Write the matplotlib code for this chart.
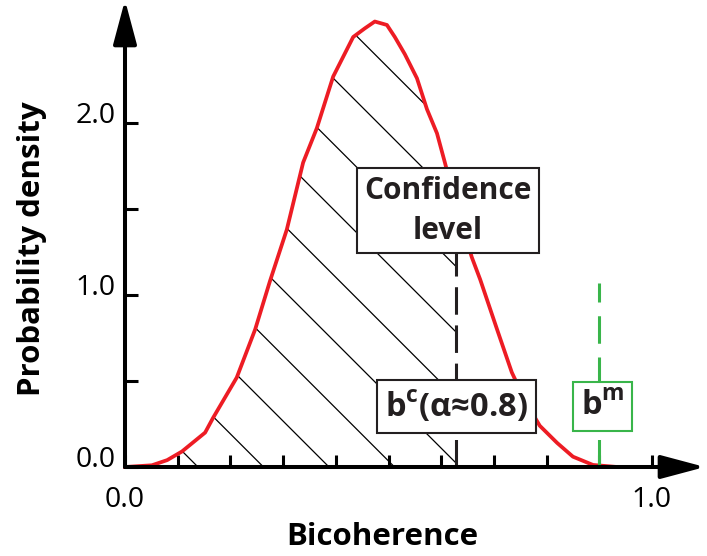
import numpy as np
import matplotlib.pyplot as plt
from matplotlib.patches import Polygon
from matplotlib.ticker import FixedLocator, NullFormatter

plt.rcParams['font.family'] = ['Open Sans', 'DejaVu Sans']
plt.rcParams['mathtext.fontset'] = 'custom'
plt.rcParams['mathtext.bf'] = 'Open Sans:bold'
plt.rcParams['mathtext.rm'] = 'Open Sans'

# distribution of the bicoherence
bicoherence = [0.0, 0.051, 0.08, 0.108, 0.152, 0.167, 0.212, 0.247, 0.275, 0.307,
               0.338, 0.364, 0.395, 0.433, 0.455, 0.474, 0.497, 0.512, 0.531, 0.554,
               0.573, 0.592, 0.607, 0.63, 0.658, 0.674, 0.706, 0.734, 0.76, 0.787,
               0.82, 0.85, 0.888, 0.934]
density = [0.0, 0.01, 0.04, 0.09, 0.2, 0.285, 0.52, 0.80, 1.08, 1.38,
           1.77, 1.97, 2.27, 2.50, 2.55, 2.59, 2.57, 2.50, 2.40, 2.26,
           2.08, 1.94, 1.77, 1.50, 1.22, 1.09, 0.80, 0.55, 0.38, 0.24,
           0.14, 0.06, 0.012, 0.0]

b_conf = 0.628      # confidence level b^c
b_meas = 0.9        # measured b^m
b_meas_top = 1.07
b_conf_top = 1.25

y_major = [0.0, 1.0, 2.0]
y_minor = [0.5, 1.5]
x_major = [0.0, 1.0]
x_minor = [0.1, 0.2, 0.3, 0.4, 0.5, 0.6, 0.7, 0.8, 0.9]

RED = '#ed1c24'
DARK = '#231f20'
GREEN = '#39b54a'

fig = plt.figure(figsize=(7.07, 5.56), dpi=100)
ax = fig.add_axes([125 / 707, 89 / 556, 580 / 707, 467 / 556])
ax.set_xlim(0, 580 / 527)
ax.set_ylim(0, 467 / 172)
for s in ax.spines.values():
    s.set_visible(False)

# axes with arrow heads
arrow = dict(arrowstyle='-|>,head_length=1.35,head_width=0.36', lw=2.9,
             color='black', shrinkA=0, shrinkB=0, mutation_scale=20)
ax.annotate('', xy=(1, 0), xytext=(0, 0), xycoords='axes fraction',
            arrowprops=arrow, annotation_clip=False, zorder=6)
ax.annotate('', xy=(0, 1), xytext=(0, 0), xycoords='axes fraction',
            arrowprops=arrow, annotation_clip=False, zorder=6)

# ticks
ax.xaxis.set_major_locator(FixedLocator(x_major))
ax.xaxis.set_minor_locator(FixedLocator(x_minor))
ax.set_xticklabels(['0.0', '1.0'])
ax.yaxis.set_major_locator(FixedLocator(y_major))
ax.yaxis.set_minor_locator(FixedLocator(y_minor))
ax.set_yticklabels(['0.0', '1.0', '2.0'])
ax.xaxis.set_minor_formatter(NullFormatter())
ax.tick_params(axis='both', which='both', direction='in', length=9, width=2.2,
               colors='black', labelsize=20.5)
ax.tick_params(axis='x', which='both', pad=14)
ax.tick_params(axis='y', which='both', pad=7)
for lbl in ax.get_yticklabels():
    lbl.set_va('baseline')

# hatched area under the curve up to the confidence level
xs = np.array(bicoherence)
ys = np.array(density)
keep = xs <= b_conf
poly_x = list(xs[keep]) + [b_conf, b_conf]
poly_y = list(ys[keep]) + [np.interp(b_conf, xs, ys), 0.0]
region = Polygon(np.column_stack([poly_x, poly_y]), closed=True,
                 facecolor='none', edgecolor='none')
ax.add_patch(region)

slope = 527 / 172          # 45 degrees on screen
first, step = 0.1385, 0.1243
for k in range(12):
    x0 = first + k * step
    hx = np.array([x0 - 3.0 / slope, x0])
    hy = (x0 - hx) * slope
    ln, = ax.plot(hx, hy, color='black', lw=0.9, zorder=2)
    ln.set_clip_path(region)

ax.plot(bicoherence, density, color=RED, lw=2.7, zorder=3, clip_on=False,
        solid_joinstyle='round')

ax.plot([b_conf, b_conf], [0, b_conf_top], color=DARK, lw=2.2,
        dashes=(9, 3.5), zorder=4)
ax.plot([b_meas, b_meas], [0, b_meas_top], color=GREEN, lw=2.2,
        dashes=(9, 4.5), zorder=4)

ax.text(0.613, 1.49, 'Confidence\nlevel', ha='center', va='center',
        fontsize=21.5, fontweight='bold', color=DARK, linespacing=1.42, zorder=7,
        bbox=dict(boxstyle='square,pad=0.25', facecolor='white',
                  edgecolor=DARK, lw=1.5))
ax.text(0.629, 0.352, r'$\mathbf{b}^{\mathbf{c}}$(α≈0.8)', ha='center',
        va='center', fontsize=23.5, fontweight='bold', color=DARK, zorder=7,
        bbox=dict(boxstyle='square,pad=0.26', facecolor='white',
                  edgecolor=DARK, lw=1.5))
ax.text(0.906, 0.352, r'$\mathbf{b}^{\mathbf{m}}$', ha='center', va='center',
        fontsize=23.5, fontweight='bold', color=DARK, zorder=7,
        bbox=dict(boxstyle='square,pad=0.24', facecolor='white',
                  edgecolor=GREEN, lw=1.5))

fig.text(32 / 707, 1 - 249 / 556, 'Probability density', rotation=90,
         ha='center', va='center', fontsize=22.5, fontweight='bold')
fig.text(382 / 707, 1 - 537 / 556, 'Bicoherence', ha='center', va='center',
         fontsize=22.5, fontweight='bold')

fig.savefig('out.png', dpi=100)
